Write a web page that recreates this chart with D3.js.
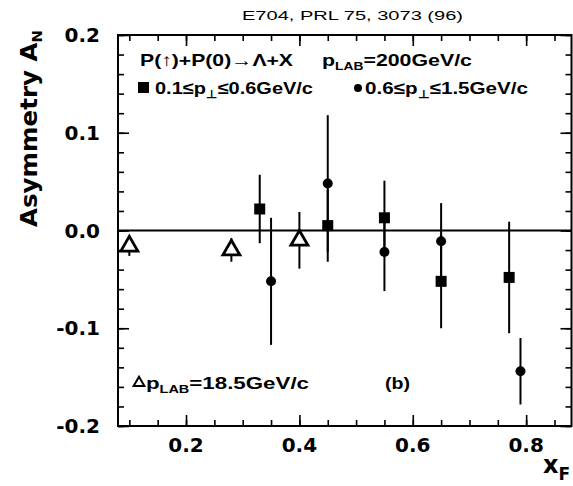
<!DOCTYPE html>
<html>
<head>
<meta charset="utf-8">
<script src="https://cdn.jsdelivr.net/npm/d3@7"></script>
<style>
  body { margin: 0; background: #fff; }
  svg { display: block; }
  text { fill: #000; }
</style>
</head>
<body>
<div id="chart"></div>
<script>
// E704 asymmetry A_N vs x_F
const squareX = [0.33, 0.45, 0.55, 0.65, 0.77];
const squareY = [0.022, 0.005, 0.013, -0.052, -0.048];
const squareErr = [0.035, 0.037, 0.038, 0.048, 0.057];

const circleX = [0.35, 0.45, 0.55, 0.65, 0.79];
const circleY = [-0.052, 0.048, -0.022, -0.011, -0.144];
const circleErr = [0.065, 0.07, 0.04, 0.039, 0.034];

const triX = [0.1, 0.28, 0.4];
const triY = [-0.016, -0.02, -0.01];
const triErr = [0.01, 0.012, 0.029];

const xMajor = [0.2, 0.4, 0.6, 0.8];
const xMinor = d3.range(0.1, 0.876, 0.05);
const yMajor = [-0.2, -0.1, 0, 0.1, 0.2];
const yMinor = d3.range(-0.2, 0.201, 0.02);

const width = 573, height = 486;
const margin = { top: 35, right: 1.5, bottom: 60, left: 118 };
const innerW = width - margin.left - margin.right;
const innerH = height - margin.top - margin.bottom;

const svg = d3.select("#chart").append("svg").attr("width", width).attr("height", height);
const g = svg.append("g").attr("transform", `translate(${margin.left},${margin.top})`);

const x = d3.scaleLinear().domain([0.08, 0.88]).range([0, innerW]);
const y = d3.scaleLinear().domain([-0.2, 0.2]).range([innerH, 0]);

const tickFont = "DejaVu Sans, sans-serif";

// ticks, drawn inward on all four sides
function ticks(axis, vals, size, transform) {
  const a = g.append("g").attr("transform", transform)
    .call(axis.tickValues(vals).tickSize(size).tickFormat(""));
  a.select(".domain").remove();
  a.selectAll("line").attr("stroke", "#000").attr("stroke-width", 1.6);
  return a;
}
ticks(d3.axisBottom(x), xMinor, -6, `translate(0,${innerH})`);
ticks(d3.axisBottom(x), xMajor, -11, `translate(0,${innerH})`);
ticks(d3.axisTop(x), xMinor, -6, "translate(0,0)");
ticks(d3.axisTop(x), xMajor, -11, "translate(0,0)");
ticks(d3.axisLeft(y), yMinor, -6, "translate(0,0)");
ticks(d3.axisLeft(y), yMajor, -11, "translate(0,0)");
ticks(d3.axisRight(y), yMinor, -6, `translate(${innerW},0)`);
ticks(d3.axisRight(y), yMajor, -11, `translate(${innerW},0)`);

// tick labels
g.append("g").selectAll("text").data(xMajor).join("text")
  .attr("x", d => x(d)).attr("y", innerH + 26)
  .attr("text-anchor", "middle")
  .style("font", `bold 20px ${tickFont}`)
  .text(d => d.toFixed(1));
g.append("g").selectAll("text").data(yMajor).join("text")
  .attr("x", -18).attr("y", d => y(d) + 7)
  .attr("text-anchor", "end")
  .style("font", `bold 20px ${tickFont}`)
  .text(d => d.toFixed(1));

// frame
g.append("rect").attr("width", innerW).attr("height", innerH)
  .attr("fill", "none").attr("stroke", "#000").attr("stroke-width", 2);

// zero line
g.append("line").attr("x1", 0).attr("x2", innerW).attr("y1", y(0)).attr("y2", y(0))
  .attr("stroke", "#000").attr("stroke-width", 1.8);

// error bars
function errBars(xs, ys, es) {
  g.append("g").selectAll("line").data(xs).join("line")
    .attr("x1", d => x(d)).attr("x2", d => x(d))
    .attr("y1", (d, i) => y(ys[i] + es[i]))
    .attr("y2", (d, i) => y(ys[i] - es[i]))
    .attr("stroke", "#000").attr("stroke-width", 2);
}
errBars(squareX, squareY, squareErr);
errBars(circleX, circleY, circleErr);
errBars(triX, triY, triErr);

// markers
g.append("g").selectAll("rect").data(squareX).join("rect")
  .attr("x", d => x(d) - 5.5).attr("y", (d, i) => y(squareY[i]) - 5.5)
  .attr("width", 11).attr("height", 11).attr("fill", "#000");
g.append("g").selectAll("circle").data(circleX).join("circle")
  .attr("cx", d => x(d)).attr("cy", (d, i) => y(circleY[i]))
  .attr("r", 5).attr("fill", "#000");
const tri = d3.symbol().type(d3.symbolTriangle).size(125);
g.append("g").selectAll("path").data(triX).join("path")
  .attr("d", tri)
  .attr("transform", (d, i) => `translate(${x(d)},${y(triY[i])})`)
  .attr("fill", "#fff").attr("stroke", "#000").attr("stroke-width", 2.8);

// axis titles
svg.append("text")
  .attr("transform", "translate(37,30) rotate(-90)")
  .attr("text-anchor", "end")
  .attr("textLength", 197).attr("lengthAdjust", "spacingAndGlyphs")
  .style("font", `bold 23px ${tickFont}`)
  .html('Asymmetry A<tspan dy="5" font-size="14">N</tspan>');
svg.append("text")
  .attr("x", 543).attr("y", 473)
  .style("font", `bold 24px ${tickFont}`)
  .html('x<tspan dy="7" font-size="17">F</tspan>');

// title
svg.append("text").attr("x", 242).attr("y", 20)
  .attr("textLength", 221).attr("lengthAdjust", "spacingAndGlyphs")
  .style("font", "13px Liberation Sans, sans-serif")
  .text("E704, PRL 75, 3073 (96)");

// legend texts
const lf = "bold 17px Liberation Sans, sans-serif";
function label(xp, yp, len, html) {
  svg.append("text").attr("x", xp).attr("y", yp).style("font", lf)
    .attr("textLength", len).attr("lengthAdjust", "spacingAndGlyphs")
    .html(html);
}
label(140, 66, 153, "P(\u2191)+P(0)\u2192\u039B+X");
label(322, 66, 150, 'p<tspan dy="4" font-size="11">LAB</tspan><tspan dy="-4">=200GeV/c</tspan>');
svg.append("rect").attr("x", 138).attr("y", 82).attr("width", 11).attr("height", 11).attr("fill", "#000");
label(155, 94, 158, '0.1\u2264p<tspan dy="4" font-size="11">\u22A5</tspan><tspan dy="-4">\u22640.6GeV/c</tspan>');
svg.append("circle").attr("cx", 358).attr("cy", 88).attr("r", 4).attr("fill", "#000");
label(365, 94, 163, '0.6\u2264p<tspan dy="4" font-size="11">\u22A5</tspan><tspan dy="-4">\u22641.5GeV/c</tspan>');

svg.append("path").attr("d", d3.symbol().type(d3.symbolTriangle).size(50))
  .attr("transform", "translate(139,383)")
  .attr("fill", "#fff").attr("stroke", "#000").attr("stroke-width", 2);
label(146, 389, 163, 'p<tspan dy="4" font-size="11">LAB</tspan><tspan dy="-4">=18.5GeV/c</tspan>');
label(385, 389, 25, "(b)");
</script>
</body>
</html>
